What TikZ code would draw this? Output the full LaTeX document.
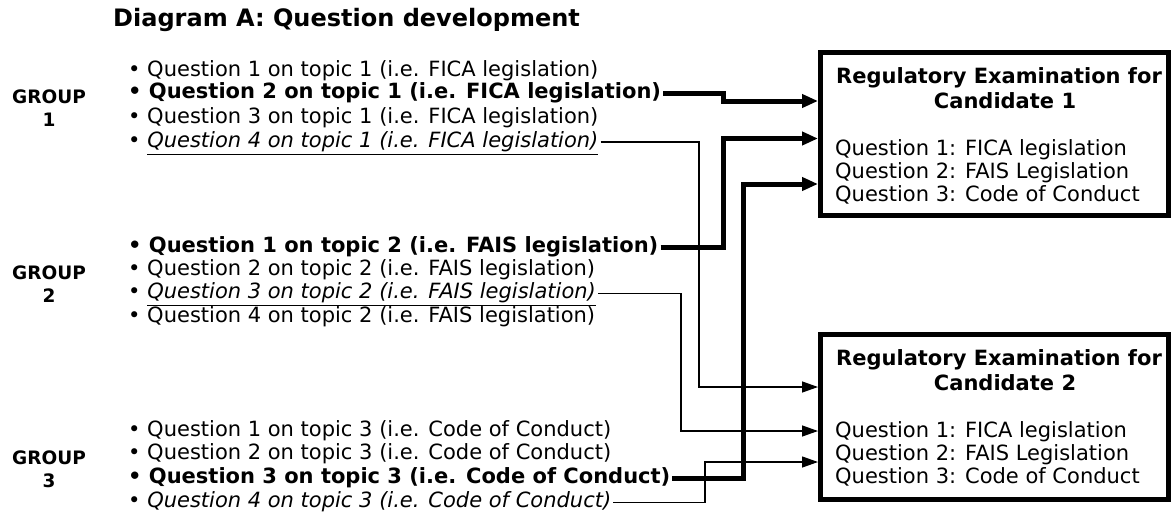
\documentclass[tikz,border=0pt]{standalone}
\usepackage{fontspec}
\setmainfont{DejaVu Sans}
\usetikzlibrary{arrows.meta}
\newcommand\myul[1]{\setbox0\hbox{#1}\rlap{\rule[-7.6pt]{\wd0}{1.2pt}}\box0}
\begin{document}
\begin{tikzpicture}[x=1pt,y=-1pt,
  qtext/.style={anchor=base west, inner xsep=2pt, inner ysep=0pt,
    font=\fontsize{21}{23}\selectfont, text height=15.75pt, text depth=5.25pt},
  boxtext/.style={anchor=base west, inner sep=0pt, font=\fontsize{21}{23}\selectfont},
  boxhead/.style={anchor=base, inner sep=0pt, font=\fontsize{21}{23}\selectfont\bfseries},
  grouplabel/.style={align=center, inner sep=0pt, font=\fontsize{18.5}{23}\selectfont\bfseries},
  exambox/.style={draw, line width=5pt, minimum width=347.5pt, inner sep=0pt},
  thickarr/.style={line width=5pt, line join=miter, -{Triangle[length=16pt,width=13pt]}},
  thinarr/.style={line width=1.3pt, line join=miter, -{Triangle[length=16pt,width=11pt]}}]
\useasboundingbox (0,0) rectangle (1172,514);

\node[anchor=base west, inner sep=0pt, font=\fontsize{24}{28}\selectfont\bfseries] (title) at (113,27) {Diagram A: Question development};

% group labels
\node[grouplabel] (grp1) at (49,108) {GROUP\\1};
\node[grouplabel] (grp2) at (49,284.5) {GROUP\\2};
\node[grouplabel] (grp3) at (49,469) {GROUP\\3};

% group 1
\node[qtext] (g1q1) at (126,76.5) {• Question 1 on topic 1 (i.e. FICA legislation)};
\node[qtext] (g1q2) at (126,98.25) {\bfseries • Question 2 on topic 1 (i.e. FICA legislation)};
\node[qtext] (g1q3) at (126,123.25) {• Question 3 on topic 1 (i.e. FICA legislation)};
\node[qtext] (g1q4) at (126,147.25) {• \myul{\itshape Question 4 on topic 1 (i.e. FICA legislation)}};

% group 2
\node[qtext] (g2q1) at (126,252.25) {\bfseries • Question 1 on topic 2 (i.e. FAIS legislation)};
\node[qtext] (g2q2) at (126,275.55) {• Question 2 on topic 2 (i.e. FAIS legislation)};
\node[qtext] (g2q3) at (126,298.85) {• \myul{\itshape Question 3 on topic 2 (i.e. FAIS legislation)}};
\node[qtext] (g2q4) at (126,322.15) {• Question 4 on topic 2 (i.e. FAIS legislation)};

% group 3
\node[qtext] (g3q1) at (126,436.65) {• Question 1 on topic 3 (i.e. Code of Conduct)};
\node[qtext] (g3q2) at (126,459.95) {• Question 2 on topic 3 (i.e. Code of Conduct)};
\node[qtext] (g3q3) at (126,483.25) {\bfseries • Question 3 on topic 3 (i.e. Code of Conduct)};
\node[qtext] (g3q4) at (126,507.5) {• {\itshape Question 4 on topic 3 (i.e. Code of Conduct)}};

% boxes
\node[exambox, minimum height=163pt] (b1) at (994.25,134) {};
\node[exambox, minimum height=165pt] (b2) at (994.25,417) {};

\node[boxhead] (b1h1) at (999,83) {Regulatory Examination for};
\node[boxhead] (b1h2) at (1005,108) {Candidate 1};
\node[boxtext] (b1q1) at (835,155) {Question 1: FICA legislation};
\node[boxtext] (b1q2) at (835,178) {Question 2: FAIS Legislation};
\node[boxtext] (b1q3) at (835,201) {Question 3: Code of Conduct};

\node[boxhead] (b2h1) at (999,365) {Regulatory Examination for};
\node[boxhead] (b2h2) at (1005,390) {Candidate 2};
\node[boxtext] (b2q1) at (835,437) {Question 1: FICA legislation};
\node[boxtext] (b2q2) at (835,460) {Question 2: FAIS Legislation};
\node[boxtext] (b2q3) at (835,483) {Question 3: Code of Conduct};

% entry levels
\coordinate (r1) at (0,101);
\coordinate (r2) at (0,138.5);
\coordinate (r3) at (0,184);
\coordinate (s1) at (0,387);
\coordinate (s2) at (0,431);
\coordinate (s3) at (0,462);

% connectors
\draw[thickarr] (g1q2.east) -| (723,101) -- (b1.west |- r1);
\draw[thickarr] (g2q1.east) -| (723,138.5) -- (b1.west |- r2);
\draw[thickarr] (g3q3.east) -| (743,184) -- (b1.west |- r3);
\draw[thinarr] (g1q4.east) -| (699,387) -- (b2.west |- s1);
\draw[thinarr] (g2q3.east) -| (681,431) -- (b2.west |- s2);
\draw[thinarr] (g3q4.east) -| (705,462) -- (b2.west |- s3);
\end{tikzpicture}
\end{document}
